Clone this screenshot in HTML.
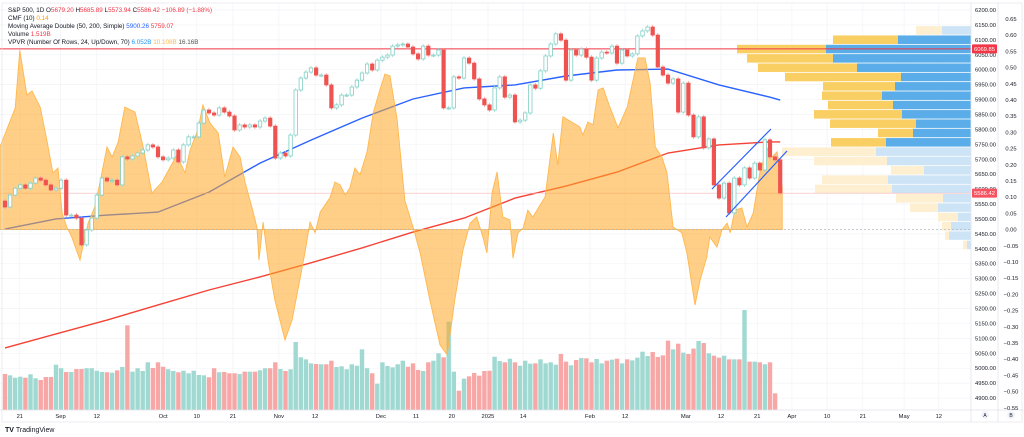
<!DOCTYPE html>
<html><head><meta charset="utf-8">
<style>
html,body{margin:0;padding:0;background:#fff;}
svg{display:block;font-family:"Liberation Sans",sans-serif;}
</style></head>
<body>
<svg id="chart" width="1024" height="437" viewBox="0 0 1024 437" xmlns="http://www.w3.org/2000/svg">
<rect x="0" y="0" width="1024" height="437" fill="#fff"/>
<g id="grid"></g>
<g id="vol"></g>
<g id="vp"></g>
<g id="ma"></g>
<g id="cmf"></g>
<g id="candles"></g>
<g id="overlay"></g>
<g id="axes"></g>
<g id="legend" font-size="6.3">
  <text x="8" y="12" fill="#131722">S&amp;P 500, 1D <tspan fill="#131722">O</tspan><tspan fill="#f23645">5679.20</tspan> <tspan fill="#131722">H</tspan><tspan fill="#f23645">5685.89</tspan> <tspan fill="#131722">L</tspan><tspan fill="#f23645">5573.94</tspan> <tspan fill="#131722">C</tspan><tspan fill="#f23645">5586.42 −106.89 (−1.88%)</tspan></text>
  <text x="8" y="20" fill="#131722">CMF (10) <tspan fill="#ff9800">0.14</tspan></text>
  <text x="8" y="28" fill="#131722">Moving Average Double (50, 200, Simple) <tspan fill="#2962ff">5900.26</tspan> <tspan fill="#f23645">5759.07</tspan></text>
  <text x="8" y="36" fill="#131722">Volume <tspan fill="#f23645">1.519B</tspan></text>
  <text x="8" y="44" fill="#131722">VPVR (Number Of Rows, 24, Up/Down, 70) <tspan fill="#2196f3">6.052B</tspan> <tspan fill="#ffb74d">10.108B</tspan> <tspan fill="#555">16.16B</tspan></text>
</g>
<text x="5" y="432" font-size="7" font-weight="bold" fill="#131722">TV <tspan font-weight="normal">TradingView</tspan></text>
</svg>
<script>
const closes=[5540,5580,5603,5614,5603,5620,5637,5630,5614,5597,5603,5630,5513,5513,5503,5413,5463,5503,5580,5637,5627,5630,5614,5708,5701,5711,5721,5731,5748,5741,5708,5698,5704,5731,5691,5748,5775,5775,5821,5865,5855,5848,5872,5858,5845,5798,5815,5808,5815,5808,5828,5838,5811,5704,5721,5711,5781,5932,5972,5992,6006,5982,5982,5949,5872,5882,5915,5915,5942,5965,5989,6019,5999,6032,6042,6049,6079,6083,6086,6076,6053,6036,6079,6049,6049,6066,5872,5872,5976,5972,6039,6022,5969,5902,5882,5865,5939,5976,5908,5915,5825,5831,5855,5949,5938,5996,6046,6086,6120,6099,5965,6066,6049,6069,6042,5965,6039,6059,6056,6079,6022,6066,6046,6053,6113,6130,6143,6116,6009,5982,5955,5969,5858,5955,5848,5775,5842,5738,5768,5614,5570,5620,5520,5637,5614,5671,5637,5687,5664,5765,5708,5698,5587];
const volumes=[4.24,4.08,3.80,3.92,3.80,4.20,3.73,3.53,3.88,3.88,5.33,4.91,4.47,4.47,4.82,4.82,4.91,4.91,4.62,4.47,4.44,4.39,4.67,5.06,9.96,4.51,4.91,4.59,5.61,4.94,5.61,5.09,4.79,4.59,4.44,4.62,4.32,4.62,4.12,4.08,3.85,4.91,4.44,4.47,4.32,4.32,4.24,4.51,4.51,4.51,4.67,4.91,4.91,5.61,4.82,4.59,4.79,8.00,6.20,5.96,5.49,5.41,5.38,5.38,5.80,5.06,5.14,4.79,5.38,5.21,7.14,4.91,4.32,3.09,5.61,5.18,5.02,5.38,
5.80,5.09,5.49,4.71,4.59,5.61,5.80,6.67,6.20,10.39,4.51,2.27,3.69,3.96,4.35,4.04,4.59,4.62,6.27,5.76,5.61,6.04,5.61,5.21,5.80,5.45,5.49,5.96,5.49,5.61,5.33,6.59,5.69,5.26,5.88,6.12,6.08,5.61,6.00,5.49,5.80,5.92,6.04,5.49,5.96,5.84,6.16,6.86,6.35,6.82,6.24,6.43,8.16,7.14,7.80,6.75,6.59,7.22,8.12,7.88,6.67,6.39,6.16,6.39,5.96,5.96,5.96,11.76,5.69,5.69,5.61,5.38,5.61,1.96];
const maBars=[0,10,20,30,40,50,60,70,80,90,100,110,120,130,140,150,152];
const ma50=[5466,5500,5513,5523,5590,5687,5764,5838,5902,5939,5949,5979,5999,6002,5949,5908,5898];
const ma200=[5068,5115,5161,5212,5262,5306,5353,5403,5456,5503,5570,5610,5657,5721,5748,5758,5758];
const cmfBars=[-1.0,2.0,2.9,4.3,5.3,6.9,8.2,9.4,10.4,11.2,12.2,13.1,14.7,16.3,17.6,18.6,20.0,21.0,22.2,23.5,25.5,27.1,28.8,30.8,32.4,33.7,35.3,36.3,37.8,38.8,40.2,41.8,43.1,44.7,46.1,47.1,48.4,49.4,49.8,50.6,51.6,52.9,54.9,56.3,57.8,58.8,59.8,60.8,61.8,63.7,64.7,65.7,66.7,67.6,68.6,69.6,71.0,72.2,73.5,74.5,75.5,76.9,78.4,80.0,81.4,83.3,85.3,86.7,88.2,89.8,91.2,92.5,93.7,94.5,95.5,96.5,97.6,99.0,99.6,100.6,101.6,102.5,103.5,105.9,107.5,108.4,109.4,112.7,113.3,114.3,115.3,116.3,117.3,118.6,120.2,122.0,124.1,125.5,126.5,127.5,128.8,129.8,131.0,132.7,133.7,135.3,136.3,137.6,138.2,139.6,140.6,141.6,142.2,143.1,144.5,145.5,146.7,148.0,149.4,150.4,151.4,152.4];
const cmfVals=[0.255,0.375,0.554,0.415,0.428,0.378,0.277,0.175,0.190,0.051,0.005,-0.023,-0.094,0.020,0.070,0.144,0.255,0.224,0.270,0.378,0.363,0.255,0.113,0.147,0.193,0.230,0.175,0.246,0.307,0.385,0.329,0.298,0.162,0.255,0.224,0.144,0.070,0.008,-0.094,0.023,-0.100,-0.217,-0.341,-0.279,-0.156,-0.072,0.023,-0.010,0.054,0.098,0.147,0.138,0.107,0.128,0.190,0.169,0.240,0.360,0.431,0.480,0.474,0.338,0.091,0.008,-0.072,-0.217,-0.356,-0.387,-0.217,-0.063,0.020,0.039,-0.023,-0.072,0.113,0.178,0.039,0.030,-0.088,-0.010,0.005,0.060,0.039,0.101,0.298,0.199,0.348,0.317,0.292,0.332,0.323,0.431,0.437,0.378,0.314,0.378,0.530,0.530,0.452,0.255,0.224,0.175,0.008,-0.010,-0.072,-0.233,-0.156,-0.085,-0.023,-0.054,0.000,0.020,-0.010,0.060,0.067,0.008,0.051,0.175,0.252,0.224,0.240,0.131];
const vpUp=[2.6,6.5,8.9,8.6,9.9,11.6,7.2,6.0,6.5,8.8,8.6,3.5,5.5,9.4,7.3,3.3,6.6,7.7,4.7,2.8,2.0,0.9,0.4,0.4];
const vpDown=[2.9,7.3,14.5,13.8,11.4,7.0,7.6,8.9,7.8,6.9,5.5,5.8,8.5,9.5,8.4,4.7,8.3,7.9,2.8,3.3,1.3,2.0,2.2,0.4];
const vpHigh=6146, vpLow=5396;
const priceTicks=[6200,6150,6100,6050,6000,5950,5900,5850,5800,5750,5700,5650,5600,5550,5500,5450,5400,5350,5300,5250,5200,5150,5100,5050,5000,4950,4900];
const cmfTicks=[0.65,0.6,0.55,0.5,0.45,0.4,0.35,0.3,0.25,0.2,0.15,0.1,0.05,0,-0.05,-0.1,-0.15,-0.2,-0.25,-0.3,-0.35,-0.4,-0.45,-0.5,-0.55];
const timeLabels=["21","Sep","12","Oct","10","21","Nov","12","Dec","11","20","2025","14","Feb","12","Mar","12","21","Apr","10","21","May","12"];
const timeBars=[2.9,10.9,18.0,31.0,37.6,44.7,53.7,60.8,73.7,80.6,87.6,94.7,101.6,114.7,121.6,133.5,140.4,147.5,154.3,161.2,168.2,176.3,183.1];
const resistance=6069.85;
const lastPrice=5586.42;

const NS="http://www.w3.org/2000/svg";
const PW=971;
function bx(i){return 5+5.1*i;}
function py(p){return 10+(6200-p)*0.2985;}
function cy(v){return 229.6-324*v;}
function vy(v){return 410-v*8.5;}
function mk(tag,attrs,parent){const e=document.createElementNS(NS,tag);for(const k in attrs)e.setAttribute(k,attrs[k]);parent.appendChild(e);return e;}
const G=id=>document.getElementById(id);

let e;
priceTicks.forEach(p=>{e=mk('line',{x1:0,x2:PW,y1:py(p),y2:py(p),stroke:'#f2f3f6','stroke-width':0.7},G('grid'));

});
timeBars.forEach(b=>{e=mk('line',{x1:bx(b),x2:bx(b),y1:3,y2:410,stroke:'#f2f3f6','stroke-width':0.7},G('grid'));

});

const opens=closes.map((c,i)=>i===0?5560:closes[i-1]);

volumes.forEach((v,i)=>{const up=closes[i]>=opens[i];
e=mk('rect',{x:bx(i)-2.2,y:vy(v),width:4.4,height:410-vy(v),fill:up?'#9fd9d1':'#f7a7a6'},G('vol'));

});

const step=(vpHigh-vpLow)/24;
vpUp.forEach((u,r)=>{const top=py(vpHigh-r*step),h=py(vpHigh-(r+1)*step)-top-0.8;
const sat=r>=1&&r<=12;
const dW=vpDown[r]*10,uW=u*10;
e=mk('rect',{x:PW-dW,y:top,width:dW,height:h,fill:sat?'#5aade8':'#cde4f6'},G('vp'));


e=mk('rect',{x:PW-dW-uW,y:top,width:uW,height:h,fill:sat?'#f9cf63':'#fdefcf'},G('vp'));

});

function poly(vals,bars,fn){return vals.map((v,k)=>bx(bars[k]).toFixed(1)+','+fn(v).toFixed(1)).join(' ');}
e=mk('polyline',{points:poly(ma200,maBars,py),fill:'none',stroke:'#f44336','stroke-width':1.4},G('ma'));


e=mk('polyline',{points:poly(ma50,maBars,py),fill:'none',stroke:'#2962ff','stroke-width':1.4},G('ma'));



e=mk('line',{x1:0,x2:PW,y1:py(resistance),y2:py(resistance),stroke:'#f23645','stroke-width':1},G('ma'));


e=mk('line',{x1:0,x2:PW,y1:py(lastPrice),y2:py(lastPrice),stroke:'#f7b5b7','stroke-width':0.6},G('ma'));



const z=cy(0);
let d='M'+bx(cmfBars[0]).toFixed(1)+','+z;
cmfBars.forEach((b,k)=>{d+=' L'+bx(b).toFixed(1)+','+cy(cmfVals[k]).toFixed(1);});
d+=' L'+bx(cmfBars[cmfBars.length-1]).toFixed(1)+','+z+' Z';
e=mk('path',{d:d,fill:'rgba(255,167,38,0.55)',stroke:'#ffb74d','stroke-width':0.9},G('cmf'));


e=mk('line',{x1:0,x2:PW,y1:z,y2:z,stroke:'#b2b5be','stroke-width':0.8,'stroke-dasharray':'2,2'},G('cmf'));



closes.forEach((c,i)=>{const o=opens[i],up=c>=o,x=bx(i);
const hi=Math.max(o,c)+7,lo=Math.min(o,c)-7;
const col=up?'#7fcfc4':'#ef5350';
e=mk('line',{x1:x,x2:x,y1:py(hi),y2:py(lo),stroke:up?'#9fdcd3':'#f7a0a0','stroke-width':0.8},G('candles'));


const t=py(Math.max(o,c)),h=Math.max(1,py(Math.min(o,c))-t);
e=mk('rect',{x:x-1.7,y:t,width:3.4,height:h,fill:up?'#fff':col,stroke:col,'stroke-width':0.8},G('candles'));

});

e=mk('line',{x1:712,y1:189,x2:771,y2:129,stroke:'#2962ff','stroke-width':1.2},G('overlay'));


e=mk('line',{x1:726,y1:217,x2:787,y2:151,stroke:'#2962ff','stroke-width':1.2},G('overlay'));



const A=G('axes');
e=mk('line',{x1:PW,x2:PW,y1:3,y2:422,stroke:'#e0e3eb','stroke-width':0.8},A);


e=mk('line',{x1:998,x2:998,y1:3,y2:422,stroke:'#e0e3eb','stroke-width':0.8},A);


e=mk('line',{x1:0,x2:1024,y1:410,y2:410,stroke:'#e0e3eb','stroke-width':0.8},A);


e=mk('rect',{x:2,y:3,width:1020,height:419,fill:'none',stroke:'#e0e3eb','stroke-width':0.6},A);


priceTicks.forEach(p=>{e=mk('text',{x:975,y:py(p)+2,'font-size':5.8,fill:'#131722'},A);e.textContent=p.toFixed(2);

});
cmfTicks.forEach(v=>{e=mk('text',{x:1011,y:cy(v)+2,'font-size':5.8,fill:'#131722','text-anchor':'middle'},A);e.textContent=(v<0?'−'+(-v).toFixed(2):v.toFixed(2));

});
timeLabels.forEach((l,k)=>{e=mk('text',{x:bx(timeBars[k]),y:418,'font-size':5.8,fill:'#131722','text-anchor':'middle'},A);e.textContent=l;

});
function tag(p,txt,fill,name){const y=py(p);
const r=mk('rect',{x:972,y:y-4.5,width:25,height:9,fill:fill,rx:1},A);


const t=mk('text',{x:974,y:y+2,'font-size':5.8,fill:'#fff'},A);t.textContent=txt;

}
tag(resistance,resistance.toFixed(2),'#f23645','resistance-price-tag');
tag(lastPrice,lastPrice.toFixed(2),'#f7525f','last-price-tag');
[['A',985],['B',1011]].forEach(([l,x])=>{e=mk('circle',{cx:x,cy:415,r:4,fill:'#f0f3fa'},A);


const t=mk('text',{x:x,y:417,'font-size':5,fill:'#131722','text-anchor':'middle'},A);t.textContent=l;

});
</script>
</body></html>
